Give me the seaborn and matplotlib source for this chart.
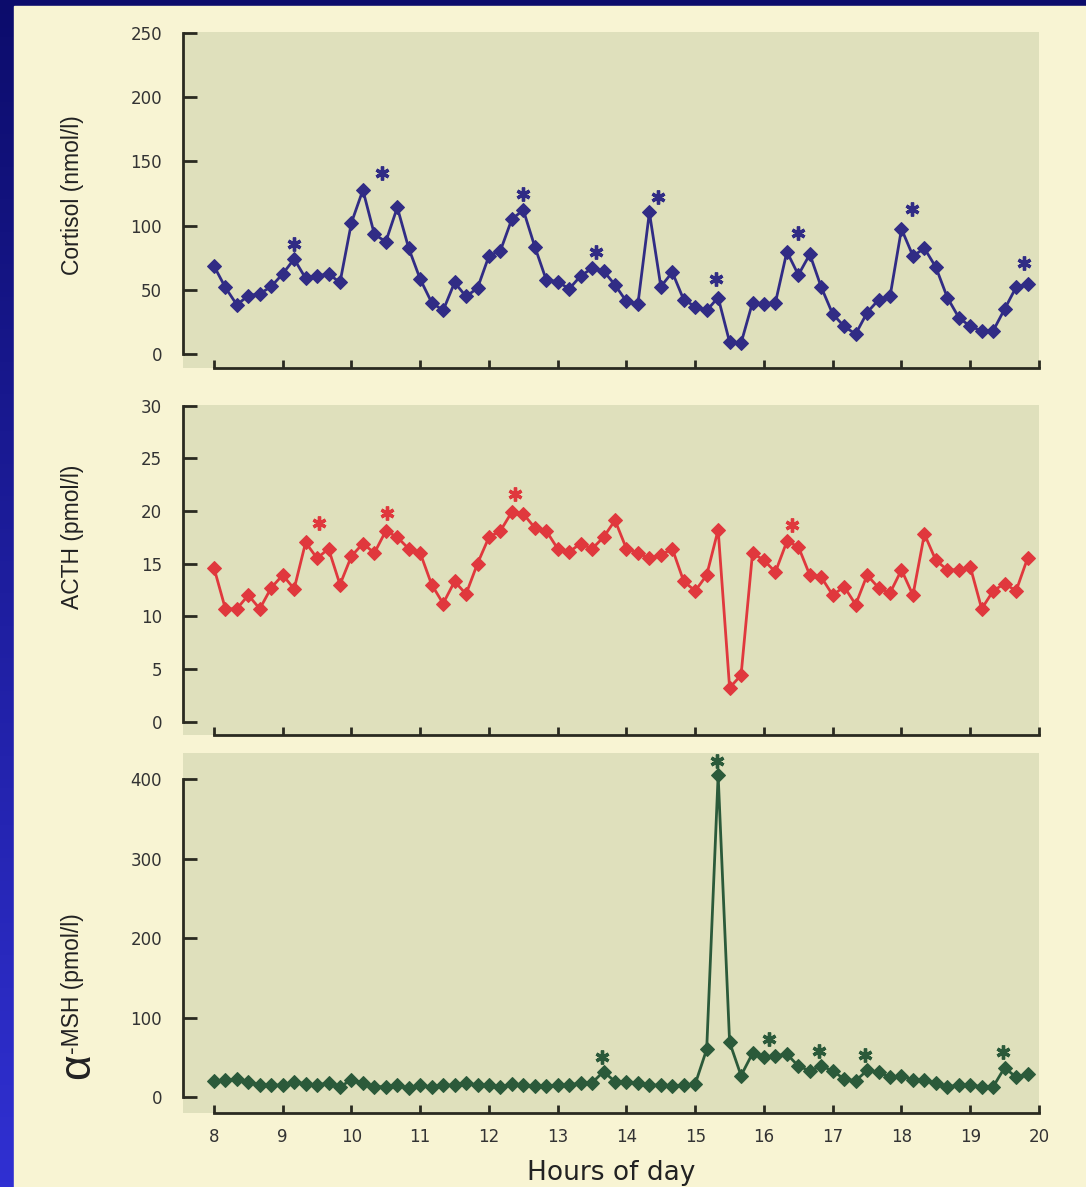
import numpy as np
import pandas as pd
import matplotlib
matplotlib.use("Agg")
import matplotlib.pyplot as plt
from matplotlib.patches import Rectangle
import seaborn as sns

# ── data: samples every 10 min from 8:00 to 19:50 ─────────────
sample_minutes = np.arange(0, 720, 10)
hours = 8 + sample_minutes / 60

cortisol = [68.6, 51.8, 38.3, 45.5, 46.9, 52.6, 62.4, 74.0, 59.0, 60.8, 62.4, 55.7,
            102.3, 127.7, 93.2, 87.5, 114.2, 82.3, 58.3, 40.1, 33.9, 55.7, 44.8, 51.3,
            76.4, 80.5, 105.1, 112.1, 83.6, 57.7, 56.4, 50.7, 60.8, 66.8, 64.7, 53.8,
            40.9, 39.1, 110.3, 52.5, 63.7, 42.2, 37.0, 33.9, 44.0, 9.3, 8.5, 40.1,
            39.1, 40.1, 79.7, 61.6, 77.7, 52.0, 31.1, 21.5, 15.5, 32.3, 42.2, 44.8,
            97.4, 76.4, 82.3, 67.6, 44.0, 28.4, 21.5, 18.1, 18.1, 35.0, 52.0, 54.6]

acth = [14.6, 10.7, 10.7, 12.0, 10.7, 12.7, 13.9, 12.6, 17.0, 15.5, 16.4, 13.0,
        15.7, 16.9, 16.0, 18.1, 17.5, 16.4, 16.0, 13.0, 11.2, 13.3, 12.1, 15.0,
        17.5, 18.1, 19.9, 19.7, 18.4, 18.1, 16.4, 16.1, 16.9, 16.4, 17.5, 19.1,
        16.4, 16.0, 15.5, 15.8, 16.4, 13.3, 12.4, 13.9, 18.2, 3.2, 4.4, 16.0,
        15.3, 14.2, 17.1, 16.6, 13.9, 13.7, 12.0, 12.8, 11.1, 13.9, 12.7, 12.2,
        14.4, 12.0, 17.8, 15.3, 14.4, 14.4, 14.7, 10.7, 12.4, 13.1, 12.4, 15.5]

msh = [20.8, 21.0, 22.5, 19.5, 15.4, 15.0, 15.0, 19.5, 16.5, 15.0, 18.0, 13.0,
       21.6, 18.0, 13.0, 13.0, 15.0, 11.0, 15.0, 12.5, 15.0, 15.0, 18.0, 15.0,
       15.0, 12.5, 16.5, 15.0, 14.0, 14.0, 15.0, 15.0, 18.0, 18.0, 32.0, 19.5,
       19.5, 17.5, 15.0, 15.0, 14.0, 15.0, 16.5, 60.0, 405.0, 69.0, 27.0, 55.0,
       50.0, 52.0, 54.0, 39.0, 33.0, 39.0, 33.0, 22.6, 20.5, 33.5, 31.0, 25.0,
       26.0, 21.8, 21.0, 18.0, 13.0, 15.0, 15.0, 13.0, 13.0, 37.0, 25.0, 29.0]

# significant pulses (asterisks): time in hours, height in panel units
cortisol_star_t = [9.17, 10.45, 12.49, 13.55, 14.46, 15.30, 16.49, 18.15, 19.78]
cortisol_star_v = [85.5, 141, 125, 79.7, 122.5, 58.3, 94, 112.7, 70.7]
acth_star_t = [9.53, 10.52, 12.38, 16.41]
acth_star_v = [18.8, 19.8, 21.6, 18.7]
msh_star_t = [13.65, 15.31, 16.07, 16.80, 17.47, 19.48]
msh_star_v = [51, 423, 73, 57.4, 53.3, 56.7]

x_ticks = list(range(8, 21))

df = pd.DataFrame({"hour": hours, "cortisol": cortisol, "acth": acth, "msh": msh})

# ── style ────────────────────────────────────────────────────
sns.set_style("ticks")
plt.rcParams["font.family"] = ["DejaVu Sans"]

cream = "#f8f4d3"
olive = "#dfe0bc"
ink = "#2a2a20"
label_font = ["Liberation Sans", "DejaVu Sans"]

fig = plt.figure(figsize=(10.86, 11.87), dpi=100)

# blue frame with gradient on the left edge
bg = fig.add_axes([0, 0, 1, 1], zorder=-10)
grad = np.linspace(0, 1, 256)[:, None]
top_c = np.array([0x0c, 0x0c, 0x6c]) / 255
bot_c = np.array([0x30, 0x30, 0xd2]) / 255
img = top_c[None, None, :] * (1 - grad[..., None]) + bot_c[None, None, :] * grad[..., None]
bg.imshow(img, aspect="auto", extent=[0, 1, 0, 1], origin="upper")
bg.add_patch(Rectangle((14 / 1086, 0), 1, 1 - 6 / 1187, color=cream, zorder=2))
bg.set_xlim(0, 1)
bg.set_ylim(0, 1)
bg.axis("off")

W, H = 1086, 1187
left_px, right_px = 183, 1039


def make_ax(top_px, bottom_px):
    return fig.add_axes([left_px / W, 1 - bottom_px / H,
                         (right_px - left_px) / W, (bottom_px - top_px) / H])


panels = [
    dict(col="cortisol", color="#312c85", top=32, bottom=368, ylim=(-10.9, 250.8),
         yticks=[0, 50, 100, 150, 200, 250], label="Cortisol (nmol/l)", label_y=0.515,
         st=cortisol_star_t, sv=cortisol_star_v),
    dict(col="acth", color="#e0383d", top=405, bottom=735, ylim=(-1.28, 30.05),
         yticks=[0, 5, 10, 15, 20, 25, 30], label="ACTH (pmol/l)", label_y=0.60,
         st=acth_star_t, sv=acth_star_v),
    dict(col="msh", color="#2b5a3a", top=753, bottom=1113, ylim=(-20.1, 433),
         yticks=[0, 100, 200, 300, 400], label=None, label_y=0.165,
         st=msh_star_t, sv=msh_star_v),
]

for k, p in enumerate(panels):
    ax = make_ax(p["top"], p["bottom"])
    ax.set_facecolor(olive)
    sns.lineplot(data=df, x="hour", y=p["col"], ax=ax, color=p["color"],
                 linewidth=2.0, marker="D", markersize=7,
                 markeredgecolor=p["color"], markerfacecolor=p["color"])
    ax.plot(p["st"], p["sv"], linestyle="none", marker=(6, 2, 0), markersize=10,
            markeredgewidth=2.4, color=p["color"])

    ax.set_xlim(7.55, 20.0)
    ax.set_ylim(*p["ylim"])
    ax.set_xticks(x_ticks)
    ax.set_yticks(p["yticks"])
    for side in ["top", "right"]:
        ax.spines[side].set_visible(False)
    for side in ["left", "bottom"]:
        ax.spines[side].set_color(ink)
        ax.spines[side].set_linewidth(2.0)
    ax.spines["left"].set_bounds(0, p["yticks"][-1])
    ax.spines["bottom"].set_bounds(8, 20)
    ax.tick_params(axis="y", direction="in", length=10, width=2, color=ink,
                   pad=15, labelsize=12, labelcolor="#333333")
    ax.tick_params(axis="x", direction="in", length=6, width=2, color=ink,
                   pad=11, labelsize=12, labelcolor="#333333")
    ax.set_xlabel("")
    ax.set_ylabel("")
    if k < 2:
        ax.set_xticklabels([])
    else:
        ax.set_xlabel("Hours of day", fontsize=19, color="#222222", labelpad=10)

    lab_x = (72 - left_px) / (right_px - left_px)
    if p["label"]:
        ax.text(lab_x, p["label_y"], p["label"], transform=ax.transAxes,
                rotation=90, rotation_mode="anchor", ha="center", va="center",
                fontsize=16.5, color="#222222", family=label_font)
    else:
        ax.text(lab_x + 0.006, p["label_y"], "α", transform=ax.transAxes,
                rotation=90, rotation_mode="anchor", ha="right", va="center",
                fontsize=32, color="#222222", family=label_font)
        ax.text(lab_x, p["label_y"], "-MSH (pmol/l)", transform=ax.transAxes,
                rotation=90, rotation_mode="anchor", ha="left", va="center",
                fontsize=16.5, color="#222222", family=label_font)

fig.savefig("out.png", dpi=100, facecolor=cream)
